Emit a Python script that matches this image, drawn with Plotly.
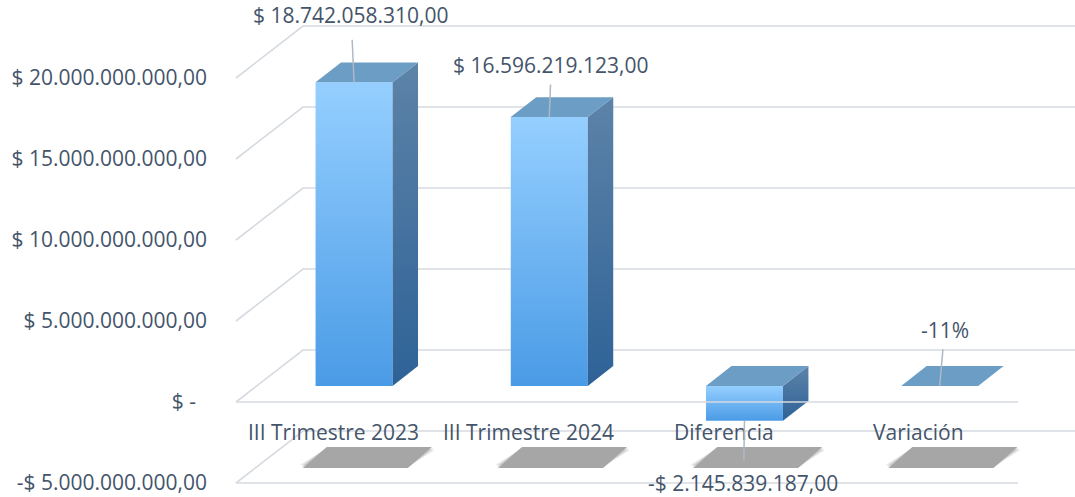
import plotly.graph_objects as go

# ---------------- data ----------------
categories = ["III Trimestre 2023", "III Trimestre 2024", "Diferencia", "Variación"]
values = [18742058310.00, 16596219123.00, -2145839187.00, -0.1145]
value_labels = ["$ 18.742.058.310,00", "$ 16.596.219.123,00", "-$ 2.145.839.187,00", "-11%"]
tick_values = [-5e9, 0, 5e9, 10e9, 15e9, 20e9]
tick_labels = ["-$ 5.000.000.000,00", "$ -\u00a0\u00a0", "$ 5.000.000.000,00",
               "$ 10.000.000.000,00", "$ 15.000.000.000,00", "$ 20.000.000.000,00"]

# ---------------- geometry / style ----------------
W, H = 1075, 497
ML = 228
PX_PER_CAT = 195.2          # pixels per category step
PX_PER_UNIT = 16.2e-9       # pixels per currency unit
X0_PX = 333.3               # pixel of category 0 on front plane
Y0_PX = 402                 # pixel of value 0 on front plane


def dxu(px):
    return px / PX_PER_CAT


def dyu(px):  # px positive = downward on screen
    return -px / PX_PER_UNIT


DEPTH_X = dxu(67)
DEPTH_Y = dyu(-52)
D0, D1 = 0.31, 0.69          # bar front/back depth
HW = dxu(38.5)               # bar half width
FLOOR_L = dxu(236 - X0_PX)
FLOOR_R = dxu(1018 - X0_PX)
X_MIN = dxu(ML - X0_PX)
X_MAX = dxu(W - X0_PX)
Y_MIN = dyu(H - Y0_PX)
Y_MAX = dyu(-Y0_PX)

TEXT = "#44546A"
GRID = "#D6DAE1"
FONT = "Open Sans"
FRONT_CS = [[0, "#4A9BE6"], [1, "#95CFFF"]]
SIDE_CS = [[0, "#2E6297"], [1, "#5D83A8"]]
TOP_COLOR = "#6B9DC5"
SHADOW = "#A8A8A8"


def P(x, v, d):
    return x + d * DEPTH_X, v + d * DEPTH_Y


fig = go.Figure()


def poly(points, **kw):
    xs = [p[0] for p in points] + [points[0][0]]
    ys = [p[1] for p in points] + [points[0][1]]
    fig.add_trace(go.Scatter(x=xs, y=ys, mode="lines", fill="toself",
                             line=dict(width=0), hoverinfo="skip",
                             showlegend=False, **kw))


def line(xs, ys, color=GRID, width=1.7):
    fig.add_trace(go.Scatter(x=xs, y=ys, mode="lines", hoverinfo="skip",
                             showlegend=False,
                             line=dict(color=color, width=width)))


# gridlines: left diagonals and back wall
for t in tick_values:
    x1, y1 = P(FLOOR_L, t, 0)
    x2, y2 = P(FLOOR_L, t, 1)
    line([x1, x2, X_MAX + 1], [y1, y2, y2])

# soft shadows on the floor (layered to imitate blur)
for i, _ in enumerate(categories):
    fl = i + dxu(-30.5)
    yf = dyu(66)
    yb = dyu(45)
    sw = dxu(105)
    sh = dxu(24)
    for grow, alpha in ((3.0, 0.25), (1.5, 0.45), (0.0, 1.0)):
        gx = dxu(grow)
        gy = dyu(grow)
        pts = [(fl - gx, yf - gy), (fl + sw + gx, yf - gy),
               (fl + sw + sh + gx, yb + gy), (fl + sh - gx, yb + gy)]
        poly(pts, fillcolor=f"rgba(166,166,166,{alpha})")

# bars
for i, v in enumerate(values):
    top = max(v, 0)
    bot = min(v, 0)
    front = [P(i - HW, 0, D0), P(i + HW, 0, D0), P(i + HW, v, D0), P(i - HW, v, D0)]
    if abs(v) > 1e6:
        poly(front, fillgradient=dict(type="vertical", colorscale=FRONT_CS))
        side = [P(i + HW, top, D0), P(i + HW, bot, D0), P(i + HW, bot, D1), P(i + HW, top, D1)]
        poly(side, fillgradient=dict(type="vertical", colorscale=SIDE_CS))
    topf = [P(i - HW, top, D0), P(i + HW, top, D0), P(i + HW, top, D1), P(i - HW, top, D1)]
    poly(topf, fillcolor=TOP_COLOR)

# front floor lines (at 0 and at axis minimum)
for t in (0, tick_values[0]):
    line([FLOOR_L, FLOOR_R], [t, t])

# category labels
for i, c in enumerate(categories):
    fig.add_annotation(x=i, y=dyu(30), text=c, showarrow=False,
                       xanchor="center", yanchor="middle",
                       font=dict(family=FONT, size=21, color=TEXT))

# data labels with leader lines
label_dx = [-3, 2, -1, 5]
label_dy = [-67, -52, 62, -56]
label_gap = [9, 4, 7, 4]
for i, (v, t) in enumerate(zip(values, value_labels)):
    hx, hy = P(i, v, D0)
    fig.add_annotation(x=hx, y=hy, text=t, showarrow=True, arrowhead=0,
                       arrowwidth=1.5, arrowcolor="#AFB8C5",
                       ax=label_dx[i], ay=label_dy[i], standoff=0,
                       startstandoff=label_gap[i],
                       font=dict(family=FONT, size=21, color=TEXT))

fig.update_layout(
    width=W, height=H,
    margin=dict(l=ML, r=0, t=0, b=0),
    paper_bgcolor="white", plot_bgcolor="white",
    showlegend=False,
    xaxis=dict(range=[X_MIN, X_MAX], visible=False, fixedrange=True),
    yaxis=dict(range=[Y_MIN, Y_MAX], tickvals=tick_values, ticktext=tick_labels,
               showgrid=False, zeroline=False, showline=False, ticks="",
               ticklabelstandoff=20, fixedrange=True,
               tickfont=dict(family=FONT, size=21, color=TEXT)),
)

fig.write_html("out.html", config={"displayModeBar": False},
               post_script="document.body.style.margin='0';document.body.style.overflow='hidden';")
